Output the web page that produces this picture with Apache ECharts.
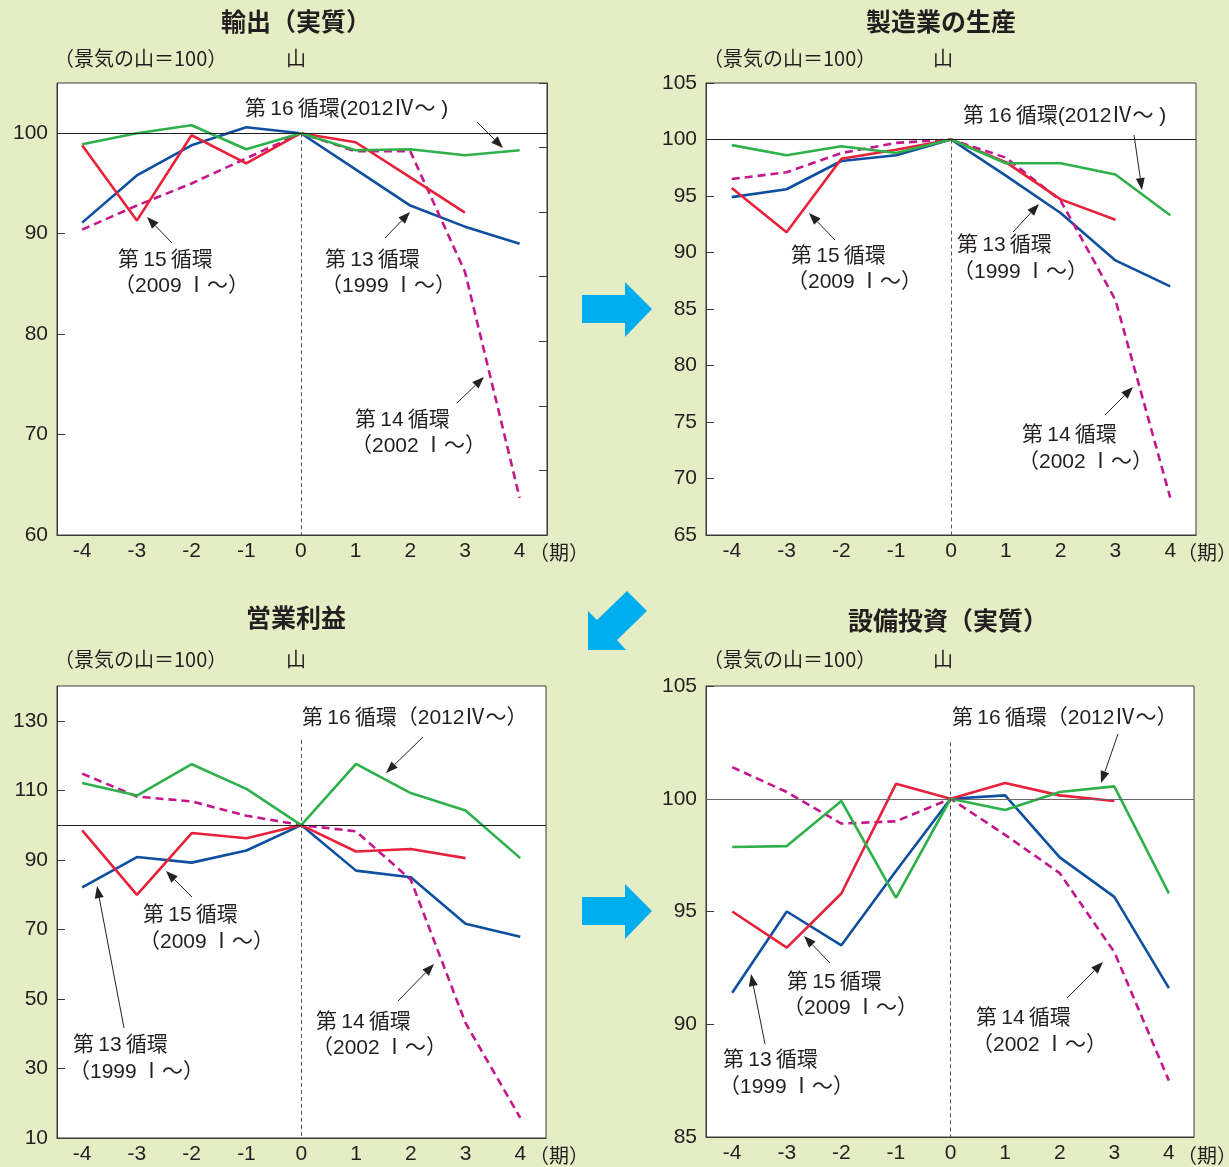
<!DOCTYPE html>
<html>
<head>
<meta charset="utf-8">
<script src="https://cdn.jsdelivr.net/npm/echarts@6/dist/echarts.min.js"></script>
<style>
  html, body { margin: 0; padding: 0; background: #e5edc5; }
  #chart { width: 1229px; height: 1167px; }
</style>
</head>
<body>
<div id="chart"></div>
<script>
// Quarters relative to the business-cycle peak (0 = 山)
const periods = [-4, -3, -2, -1, 0, 1, 2, 3, 4];

// 輸出（実質） index, peak = 100
const expC13 = [91.1, 95.8, 98.8, 100.6, 100, 96.4, 92.8, 90.7, 89.0];
const expC14 = [90.4, 92.8, 95.0, 97.5, 100, 98.2, 98.2, 86.2, 63.7];
const expC15 = [98.8, 91.3, 99.8, 97.0, 100, 99.1, 95.6, 92.1, null];
const expC16 = [98.9, 100.0, 100.8, 98.4, 100, 98.3, 98.4, 97.8, 98.3];

// 製造業の生産
const mfgC13 = [94.9, 95.6, 98.1, 98.6, 100, 96.8, 93.5, 89.3, 87.0];
const mfgC14 = [96.5, 97.1, 98.8, 99.7, 100, 98.4, 94.6, 85.8, 68.3];
const mfgC15 = [95.7, 91.8, 98.3, 99.1, 100, 98.0, 94.7, 92.9, null];
const mfgC16 = [99.5, 98.6, 99.4, 98.8, 100, 97.9, 97.9, 96.9, 93.3];

// 営業利益
const opC13 = [82.1, 90.8, 89.2, 92.7, 100, 86.9, 85.0, 71.6, 67.9];
const opC14 = [114.8, 108.2, 106.8, 102.7, 100, 98.2, 84.3, 43.1, 15.8];
const opC15 = [98.5, 79.9, 97.7, 96.2, 100, 92.4, 93.1, 90.5, null];
const opC16 = [112.1, 108.5, 117.5, 110.4, 100, 117.6, 109.2, 104.2, 90.5];

// 設備投資（実質）
const capC13 = [91.4, 95.0, 93.5, 96.8, 100, 100.15, 97.4, 95.65, 91.6];
const capC14 = [101.4, 100.3, 98.9, 99.0, 100, 98.4, 96.7, 93.2, 87.5];
const capC15 = [95.0, 93.4, 95.8, 100.66, 100, 100.7, 100.15, 99.9, null];
const capC16 = [97.86, 97.9, 99.9, 95.6, 100, 99.5, 100.3, 100.55, 95.8];

// Y tick labels of each panel
const expTicks = [60, 70, 80, 90, 100];
const mfgTicks = [65, 70, 75, 80, 85, 90, 95, 100, 105];
const opTicks = [10, 30, 50, 70, 90, 110, 130];
const capTicks = [85, 90, 95, 100, 105];

const cycleNames = ['第13循環', '第14循環', '第15循環', '第16循環'];
const cycleColors = ['#0f4fa0', '#c4178c', '#e8213b', '#2eb04a'];

const LATIN = "'Liberation Sans', 'Noto Sans CJK JP', sans-serif";
const CJK = "'Noto Sans CJK JP', sans-serif";
const INK = '#231f20';
const TS = '\u2009'; // thin space between numerals and kanji

const panels = [
  { grid: { left: 57, top: 83, width: 490, height: 452 }, x: [-4.46, 4.5], y: [60, 105],
    ticks: expTicks, series: [expC13, expC14, expC15, expC16], dashTop: 100, refColor: INK },
  { grid: { left: 706, top: 83, width: 490, height: 452 }, x: [-4.47, 4.47], y: [65, 105],
    ticks: mfgTicks, series: [mfgC13, mfgC14, mfgC15, mfgC16], dashTop: 100, refColor: INK },
  { grid: { left: 57, top: 686, width: 489, height: 452 }, x: [-4.46, 4.47], y: [10, 140],
    ticks: opTicks, series: [opC13, opC14, opC15, opC16], dashTop: 124.5, refColor: INK },
  { grid: { left: 706, top: 686, width: 488, height: 451 }, x: [-4.48, 4.46], y: [85, 105],
    ticks: capTicks, series: [capC13, capC14, capC15, capC16], dashTop: 102.5, refColor: '#666' }
];

function pairs(vals) {
  return periods.map((p, i) => [p, vals[i]]).filter(d => d[1] !== null);
}

const grids = [], xAxes = [], yAxes = [], series = [];

panels.forEach((pn, gi) => {
  grids.push(Object.assign({ show: true, backgroundColor: '#fff', borderColor: '#3a3a3a', borderWidth: 1 }, pn.grid));
  xAxes.push({
    type: 'value', gridIndex: gi, min: pn.x[0], max: pn.x[1],
    splitLine: { show: false },
    axisLine: { show: true, onZero: false, lineStyle: { color: '#3a3a3a' } },
    axisTick: { show: false },
    axisLabel: { customValues: periods, margin: 6, color: INK, fontSize: 21, fontFamily: LATIN }
  });
  yAxes.push({
    type: 'value', gridIndex: gi, min: pn.y[0], max: pn.y[1],
    splitLine: { show: false },
    axisLine: { show: true, onZero: false, lineStyle: { color: '#3a3a3a' } },
    axisTick: { show: true, inside: true, length: 8, customValues: pn.ticks, lineStyle: { color: '#3a3a3a' } },
    axisLabel: { customValues: pn.ticks, margin: 9, color: INK, fontSize: 21, fontFamily: LATIN }
  });
});

// secondary scale ticks on the right edge of the export panel
yAxes.push({
  type: 'value', gridIndex: 0, position: 'right', min: 0, max: 7, interval: 1,
  splitLine: { show: false },
  axisLine: { show: true, onZero: false, lineStyle: { color: '#3a3a3a' } },
  axisTick: { show: true, inside: true, length: 8, lineStyle: { color: '#3a3a3a' } },
  axisLabel: { show: false }
});

panels.forEach((pn, gi) => {
  // reference lines: peak level 100 and the peak quarter
  series.push({
    type: 'line', xAxisIndex: gi, yAxisIndex: gi, data: [[0, 100]],
    symbol: 'none', lineStyle: { opacity: 0 }, silent: true, z: 1,
    markLine: {
      silent: true, symbol: 'none', label: { show: false }, animation: false,
      data: [
        { yAxis: 100, lineStyle: { color: pn.refColor, width: 1, type: 'solid' } },
        [ { coord: [0, pn.dashTop], lineStyle: { color: '#555', width: 1, type: [4, 3] } },
          { coord: [0, pn.y[0]] } ]
      ]
    }
  });
  [0, 1, 2, 3].forEach(ci => {
    series.push({
      name: cycleNames[ci], type: 'line', xAxisIndex: gi, yAxisIndex: gi,
      data: pairs(pn.series[ci]), symbol: 'none', z: 3,
      lineStyle: { color: cycleColors[ci], width: 2.6, type: ci === 1 ? [8, 5] : 'solid' },
      animation: false
    });
  });
});

// annotation helpers
function txt(x, y, text, opt) {
  opt = opt || {};
  return {
    type: 'text', z: 10, silent: true,
    style: {
      x: x, y: y, text: text, fill: INK,
      fontSize: opt.size || 21, fontWeight: opt.bold ? 'bold' : 'normal',
      fontFamily: opt.family || LATIN,
      align: opt.align || 'left', verticalAlign: 'middle'
    }
  };
}
function arrow(x1, y1, x2, y2) {
  const a = Math.atan2(y2 - y1, x2 - x1), L = 12, W = 4.5;
  const bx = x2 - L * Math.cos(a), by = y2 - L * Math.sin(a);
  const px = -Math.sin(a) * W, py = Math.cos(a) * W;
  return [
    { type: 'line', z: 10, silent: true, shape: { x1: x1, y1: y1, x2: bx, y2: by },
      style: { stroke: '#222', lineWidth: 1 } },
    { type: 'polygon', z: 10, silent: true,
      shape: { points: [[x2, y2], [bx + px, by + py], [bx - px, by - py]] },
      style: { fill: '#222' } }
  ];
}

const graphics = [];
// panel headings
graphics.push(txt(296, 21, '輸出（実質）', { size: 25, bold: true, family: CJK, align: 'center' }));
graphics.push(txt(941, 21, '製造業の生産', { size: 25, bold: true, family: CJK, align: 'center' }));
graphics.push(txt(296, 617, '営業利益', { size: 25, bold: true, family: CJK, align: 'center' }));
graphics.push(txt(948, 620, '設備投資（実質）', { size: 25, bold: true, family: CJK, align: 'center' }));
// unit notes and peak marks
[[54, 58, 296], [703, 58, 943], [54, 659, 296], [703, 659, 943]].forEach(p => {
  graphics.push(txt(p[0], p[1], '（景気の山＝100）', { size: 20, family: CJK }));
  graphics.push(txt(p[2], p[1], '山', { size: 20, family: CJK, align: 'center' }));
});
// period unit at the end of each x axis
[[529, 552], [1177, 552], [529, 1155], [1177, 1155]].forEach(p => {
  graphics.push(txt(p[0], p[1], '（期）', { size: 20, family: CJK }));
});

const c13 = '第' + TS + '13' + TS + '循環', c14 = '第' + TS + '14' + TS + '循環';
const c15 = '第' + TS + '15' + TS + '循環', c16 = '第' + TS + '16' + TS + '循環';

// cycle labels
const notes = [
  // 輸出
  [245, 109, c16 + '(2012Ⅳ～ )'],
  [118, 260, c15], [114, 286, '（2009' + TS + 'Ⅰ～）'],
  [325, 260, c13], [321, 286, '（1999' + TS + 'Ⅰ～）'],
  [355, 420, c14], [351, 446, '（2002' + TS + 'Ⅰ～）'],
  // 製造業の生産
  [963, 116, c16 + '(2012Ⅳ～ )'],
  [791, 256, c15], [787, 282, '（2009' + TS + 'Ⅰ～）'],
  [957, 245, c13], [953, 272, '（1999' + TS + 'Ⅰ～）'],
  [1022, 435, c14], [1018, 462, '（2002' + TS + 'Ⅰ～）'],
  // 営業利益
  [302, 718, c16 + '（2012Ⅳ～）'],
  [143, 915, c15], [139, 942, '（2009' + TS + 'Ⅰ～）'],
  [73, 1045, c13], [69, 1072, '（1999' + TS + 'Ⅰ～）'],
  [316, 1022, c14], [312, 1048, '（2002' + TS + 'Ⅰ～）'],
  // 設備投資
  [952, 718, c16 + '（2012Ⅳ～）'],
  [787, 982, c15], [783, 1008, '（2009' + TS + 'Ⅰ～）'],
  [723, 1060, c13], [719, 1087, '（1999' + TS + 'Ⅰ～）'],
  [976, 1018, c14], [972, 1045, '（2002' + TS + 'Ⅰ～）']
];
notes.forEach(n => graphics.push(txt(n[0], n[1], n[2])));

const pointers = [
  [477, 122, 503, 148], [172, 243, 147, 217], [385, 238, 410, 212], [457, 403, 484, 377],
  [1134, 135, 1142, 190], [835, 240, 809, 213], [1013, 232, 1039, 204], [1105, 415, 1133, 387],
  [423, 737, 386, 773], [192, 897, 166, 871], [124, 1028, 97, 886], [398, 1001, 434, 964],
  [1118, 734, 1101, 783], [830, 963, 804, 936], [765, 1044, 751, 974], [1067, 998, 1103, 962]
];
pointers.forEach(p => arrow(p[0], p[1], p[2], p[3]).forEach(g => graphics.push(g)));

// flow arrows between panels
const ARROW_BLUE = '#00aeef';
const rightArrow = [[582, 295], [625, 295], [625, 282], [652, 309], [625, 337], [625, 323], [582, 323]];
graphics.push({ type: 'polygon', silent: true, shape: { points: rightArrow }, style: { fill: ARROW_BLUE } });
graphics.push({ type: 'polygon', silent: true, shape: { points: rightArrow.map(p => [p[0], p[1] + 602]) }, style: { fill: ARROW_BLUE } });
graphics.push({ type: 'polygon', silent: true,
  shape: { points: [[588, 650], [588, 611], [597, 620], [627, 591], [647, 611], [617, 640], [626, 650]] },
  style: { fill: ARROW_BLUE } });

const chart = echarts.init(document.getElementById('chart'), null, { renderer: 'canvas' });
chart.setOption({
  backgroundColor: '#e5edc5',
  animation: false,
  grid: grids,
  xAxis: xAxes,
  yAxis: yAxes,
  series: series,
  graphic: graphics
});
</script>
</body>
</html>
